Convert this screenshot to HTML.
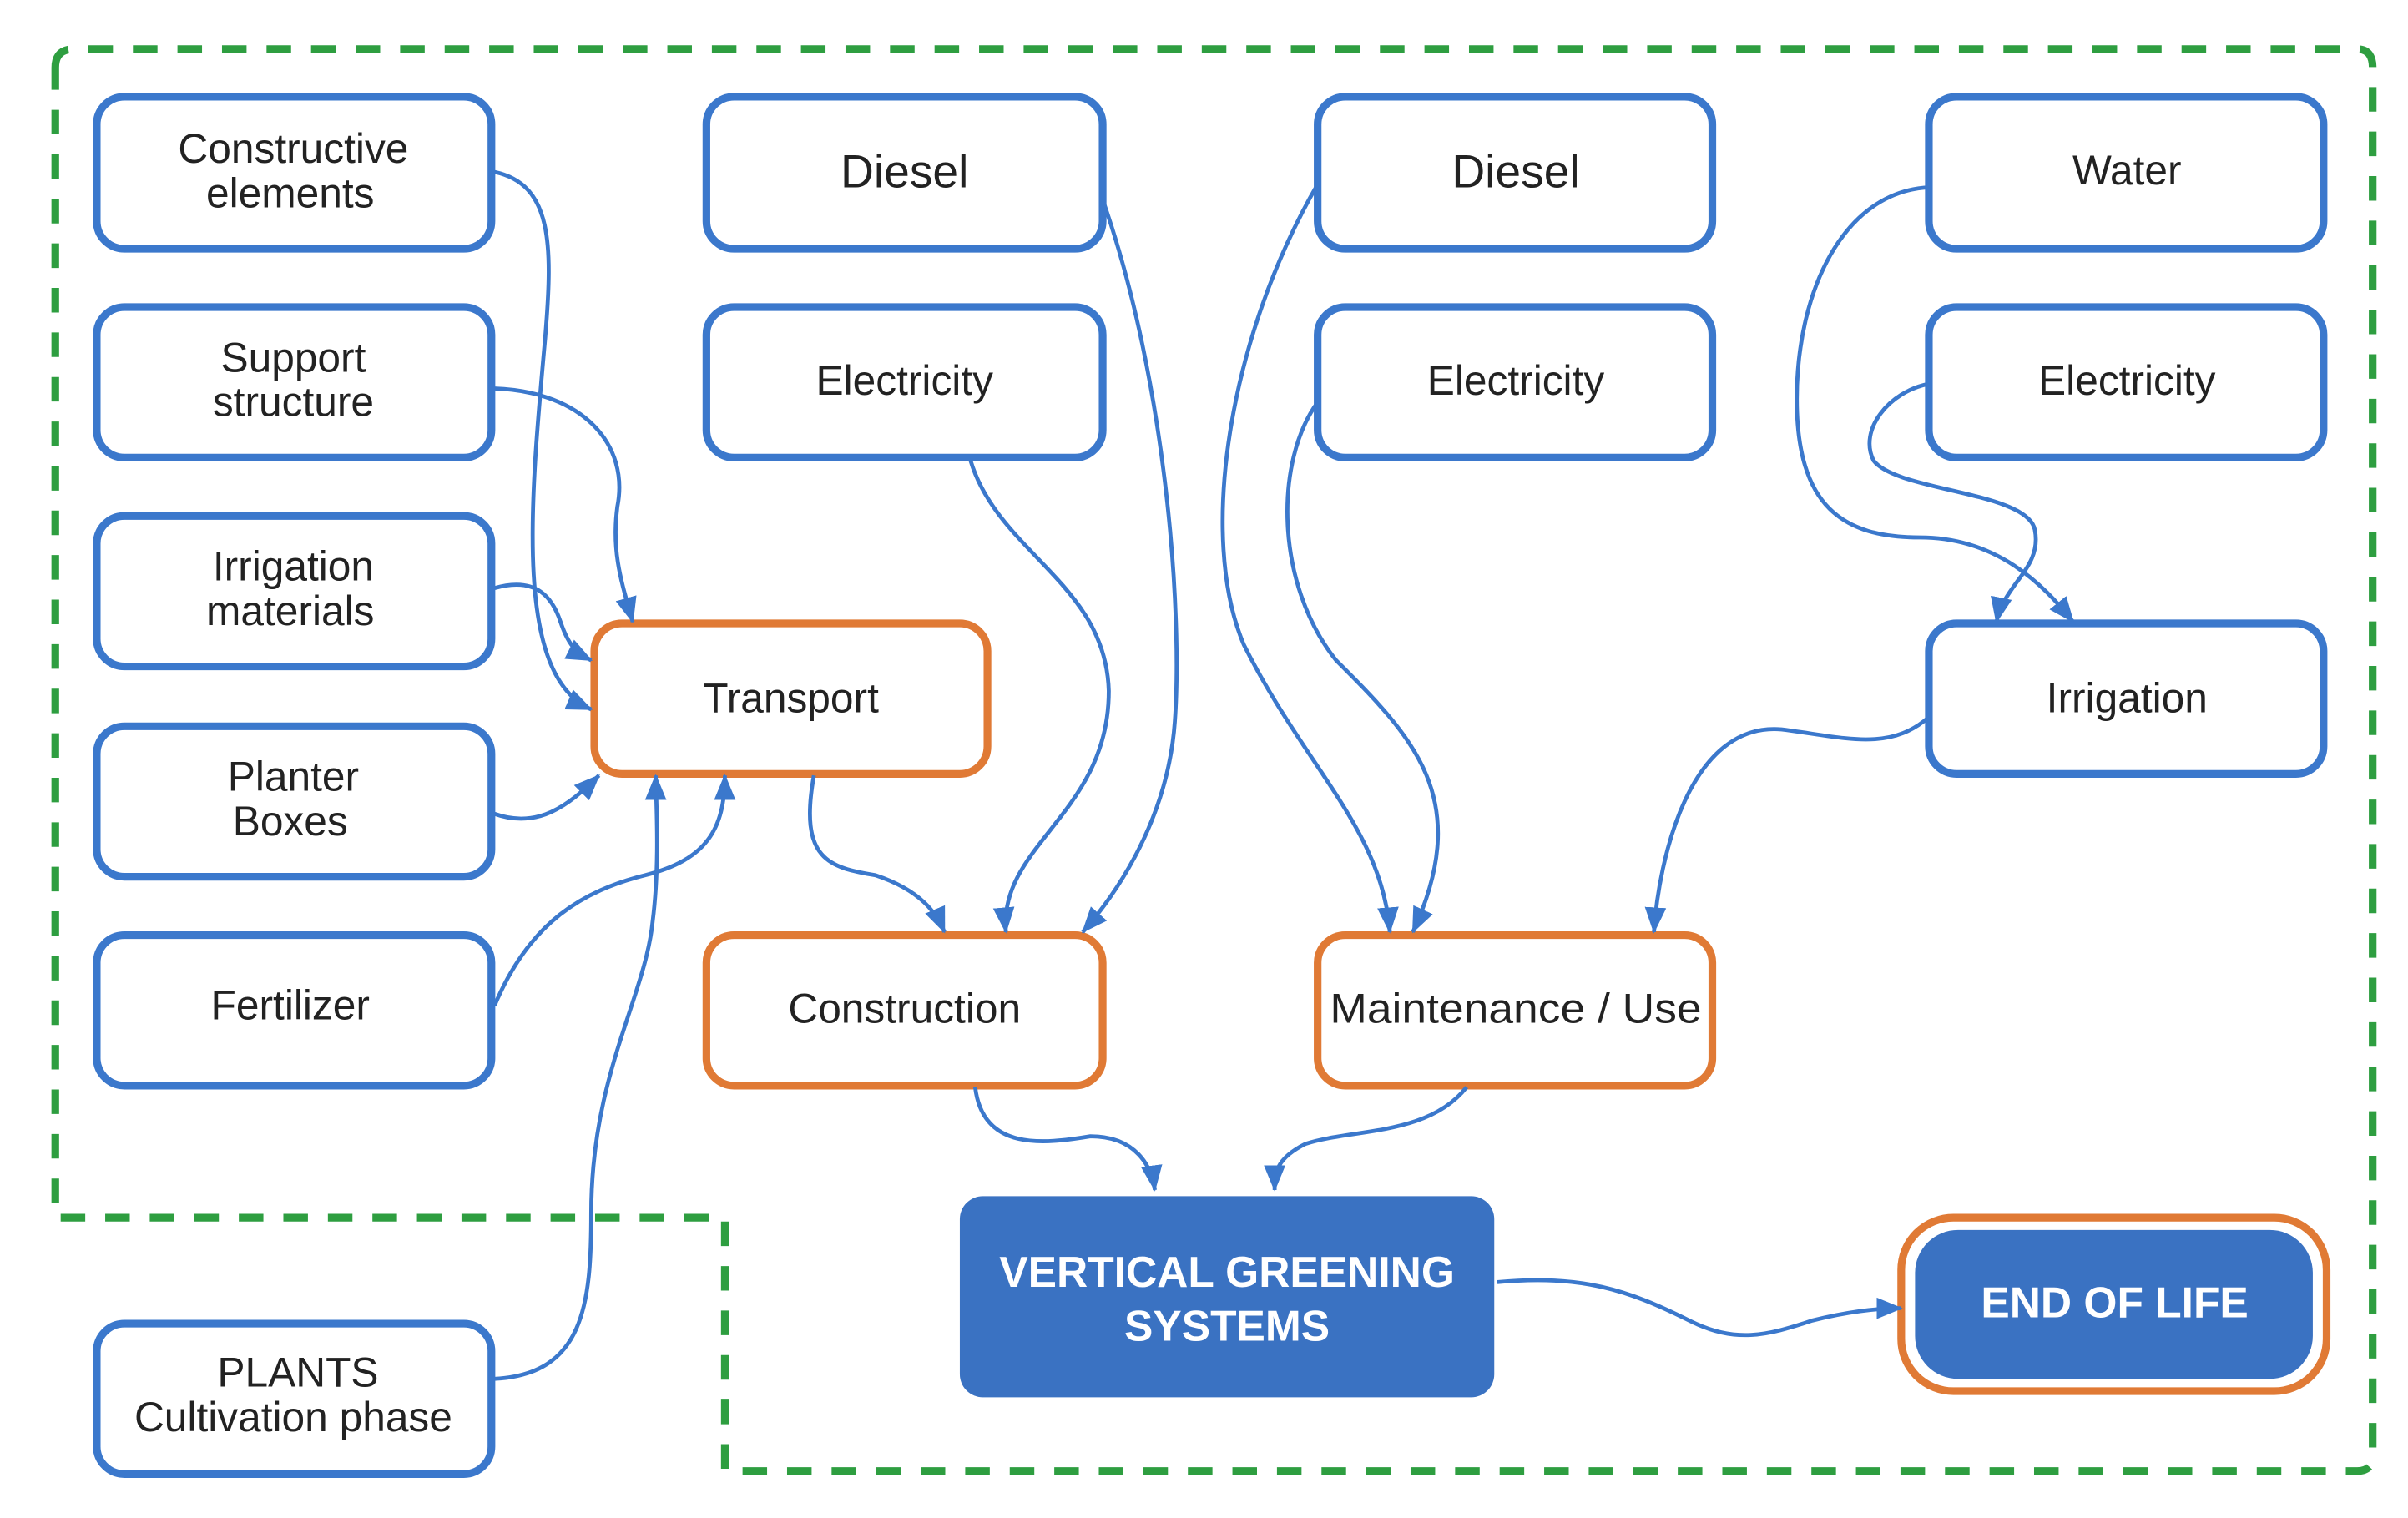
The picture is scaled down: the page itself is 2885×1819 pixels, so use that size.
<!DOCTYPE html>
<html><head><meta charset="utf-8"><style>html,body{margin:0;padding:0;background:#fff}svg{display:block}</style></head>
<body>
<svg width="2885" height="1819" viewBox="0 0 1568 988.6" preserveAspectRatio="none" xmlns="http://www.w3.org/2000/svg" font-family="'Liberation Sans', sans-serif">
<defs>
<marker id="a" markerUnits="userSpaceOnUse" markerWidth="18" markerHeight="16" refX="16" refY="8" orient="auto"><path d="M0,1 L17,8 L0,15 Z" fill="#3b78cc"/></marker>
</defs>
<path d="M36,44 Q36,32 48,32 L1535,32 Q1545,32 1545,44 L1545,948 Q1545,958 1535,958 L472,958 L472,793 L36,793 Z" fill="none" stroke="#2e9e40" stroke-width="5" stroke-dasharray="16,13"/>
<g fill="#fff" stroke="#3b78cc" stroke-width="5">
<rect x="63" y="63" width="257" height="99" rx="18"/>
<rect x="63" y="200" width="257" height="98" rx="18"/>
<rect x="63" y="336" width="257" height="98" rx="18"/>
<rect x="63" y="473" width="257" height="98" rx="18"/>
<rect x="63" y="609" width="257" height="98" rx="18"/>
<rect x="63" y="862" width="257" height="98" rx="18"/>
<rect x="460" y="63" width="258" height="99" rx="18"/>
<rect x="460" y="200" width="258" height="98" rx="18"/>
<rect x="858" y="63" width="257" height="99" rx="18"/>
<rect x="858" y="200" width="257" height="98" rx="18"/>
<rect x="1256" y="63" width="257" height="99" rx="18"/>
<rect x="1256" y="200" width="257" height="98" rx="18"/>
<rect x="1256" y="406" width="257" height="98" rx="18"/>
</g>
<g fill="#fff" stroke="#e07a35" stroke-width="5">
<rect x="387" y="406" width="256" height="98" rx="18"/>
<rect x="460" y="609" width="258" height="98" rx="18"/>
<rect x="858" y="609" width="257" height="98" rx="18"/>
<rect x="1238" y="793" width="277" height="113" rx="34"/>
</g>
<rect x="1247" y="801" width="259" height="97" rx="28" fill="#3a72c2"/>
<rect x="625" y="779" width="348" height="131" rx="15" fill="#3a72c2"/>
<g fill="none" stroke="#3b78cc" stroke-width="2.6" marker-end="url(#a)">
<path d="M322,112 C360,120 360,160 355,220 C345,330 335,440 385,462"/>
<path d="M322,253 C380,255 410,290 402,330 C398,360 405,380 412,405"/>
<path d="M322,383 C350,375 360,390 365,405 C370,420 375,425 385,430"/>
<path d="M322,530 C350,540 370,525 390,505"/>
<path d="M322,655 C345,600 380,580 420,570 C460,560 472,540 472,505"/>
<path d="M322,898 C380,895 385,850 385,790 C385,700 420,650 425,600 C430,560 427,520 427,505"/>
<path d="M530,505 C520,560 540,565 570,570 C600,580 610,595 615,607"/>
<path d="M632,300 C650,360 720,380 722,450 C722,530 650,550 655,607"/>
<path d="M718,130 C760,250 770,400 765,470 C760,540 720,590 705,607"/>
<path d="M635,708 C640,750 680,745 710,740 C740,740 750,760 752,775"/>
<path d="M858,120 C800,220 780,350 810,420 C850,500 900,540 905,607"/>
<path d="M858,262 C830,300 830,380 870,430 C920,480 960,520 920,607"/>
<path d="M1256,467 C1230,490 1200,480 1160,475 C1100,470 1080,560 1077,607"/>
<path d="M1256,122 C1200,125 1170,190 1170,260 C1170,330 1200,350 1250,350 C1300,350 1330,380 1350,405"/>
<path d="M1256,250 C1230,255 1210,280 1220,300 C1235,320 1320,320 1325,345 C1330,370 1305,380 1300,405"/>
<path d="M955,708 C930,740 880,735 850,745 C830,755 830,765 830,775"/>
<path d="M975,835 C1030,830 1060,840 1100,860 C1130,875 1150,870 1180,860 C1200,855 1220,852 1238,852"/>
</g>
<g fill="#222" font-size="27" text-anchor="middle">
<text x="191" y="106">Constructive</text><text x="189" y="135">elements</text>
<text x="191" y="242">Support</text><text x="191" y="271">structure</text>
<text x="191" y="378">Irrigation</text><text x="189" y="407">materials</text>
<text x="191" y="515">Planter</text><text x="189" y="544">Boxes</text>
<text x="189" y="664">Fertilizer</text>
<text x="194" y="903">PLANTS</text><text x="191" y="932">Cultivation phase</text>
<text x="589" y="122" font-size="30">Diesel</text>
<text x="589" y="257">Electricity</text>
<text x="987" y="122" font-size="30">Diesel</text>
<text x="987" y="257">Electricity</text>
<text x="1385" y="120">Water</text>
<text x="1385" y="257">Electricity</text>
<text x="1385" y="464">Irrigation</text>
<text x="515" y="464">Transport</text>
<text x="589" y="666">Construction</text>
<text x="987" y="666" textLength="242" lengthAdjust="spacingAndGlyphs">Maintenance / Use</text>
</g>
<g fill="#fff" font-size="28" font-weight="bold" text-anchor="middle">
<text x="799" y="838">VERTICAL GREENING</text>
<text x="799" y="873">SYSTEMS</text>
<text x="1377" y="858">END OF LIFE</text>
</g>
</svg>
</body></html>
